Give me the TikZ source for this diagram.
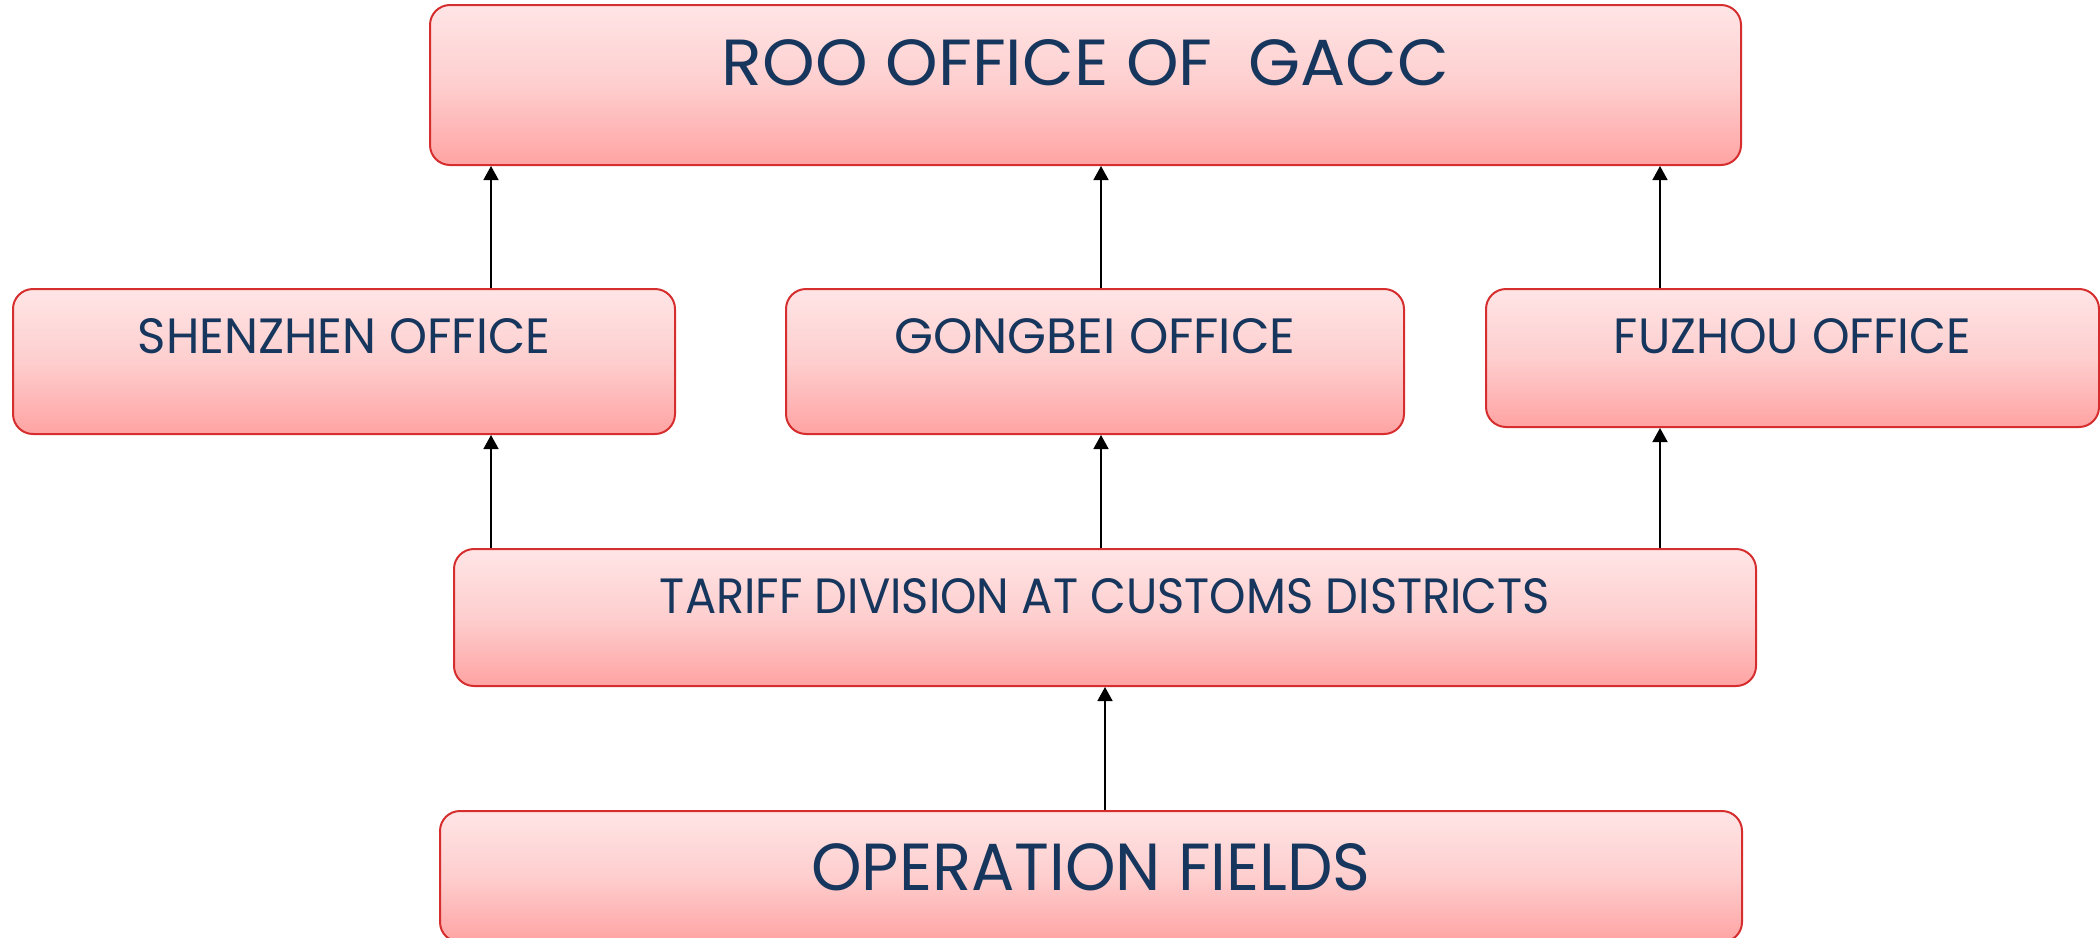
\documentclass[tikz,border=0pt]{standalone}
\usepackage{fontspec}
\usepackage{graphicx}
\newfontfamily\boxfont{Poppins}
\usetikzlibrary{arrows.meta}
\definecolor{boxred}{RGB}{214,46,46}
\definecolor{pinktop}{RGB}{255,229,230}
\definecolor{pinkmid}{RGB}{254,206,206}
\definecolor{pinkbot}{RGB}{255,163,163}
\definecolor{navy}{RGB}{23,54,93}
\newcommand{\fittext}[3]{\resizebox{#1pt}{#2pt}{\boxfont #3}}
\tikzset{
  box/.style={draw=boxred, line width=2pt, rounded corners=20pt,
    top color=pinktop, bottom color=pinkbot, middle color=pinkmid,
    inner xsep=0pt, inner ysep=0pt, text=navy, align=center},
  arr/.style={-{Triangle[width=15pt,length=14pt]}, line width=1.6pt, black}
}
\begin{document}
\begin{tikzpicture}[x=1pt,y=-1pt]
\useasboundingbox (0,0) rectangle (2100,937);
% boxes
\node[box, minimum width=1311pt, text height=80pt, text depth=80pt] (roo) at (1085.5,85)
  {\fittext{727}{46}{ROO OFFICE OF~~GACC}};
\node[box, minimum width=662pt, text height=64pt, text depth=81pt] (sz) at (344,361.5)
  {\fittext{412}{35}{SHENZHEN OFFICE}};
\node[box, minimum width=618pt, text height=64pt, text depth=81pt] (gb) at (1095,361.5)
  {\fittext{401}{35}{GONGBEI OFFICE}};
\node[box, minimum width=613pt, text height=64pt, text depth=74pt] (fz) at (1792.5,358)
  {\fittext{357}{35}{FUZHOU OFFICE}};
\node[box, minimum width=1302pt, text height=64pt, text depth=73pt] (td) at (1105,617.5)
  {\fittext{890}{35}{TARIFF DIVISION AT CUSTOMS DISTRICTS}};
\node[box, minimum width=1302pt, text height=79pt, text depth=52pt] (op) at (1091,876.5)
  {\fittext{559}{47}{OPERATION FIELDS}};
% arrow columns
\coordinate (xA) at (491,0);
\coordinate (xB) at (1101,0);
\coordinate (xC) at (1660,0);
\coordinate (xD) at (1105,0);
% connectors
\draw[arr] (sz.north -| xA) -- (roo.south -| xA);
\draw[arr] (gb.north -| xB) -- (roo.south -| xB);
\draw[arr] (fz.north -| xC) -- (roo.south -| xC);
\draw[arr] (td.north -| xA) -- (sz.south -| xA);
\draw[arr] (td.north -| xB) -- (gb.south -| xB);
\draw[arr] (td.north -| xC) -- (fz.south -| xC);
\draw[arr] (op.north -| xD) -- (td.south -| xD);
\end{tikzpicture}
\end{document}
